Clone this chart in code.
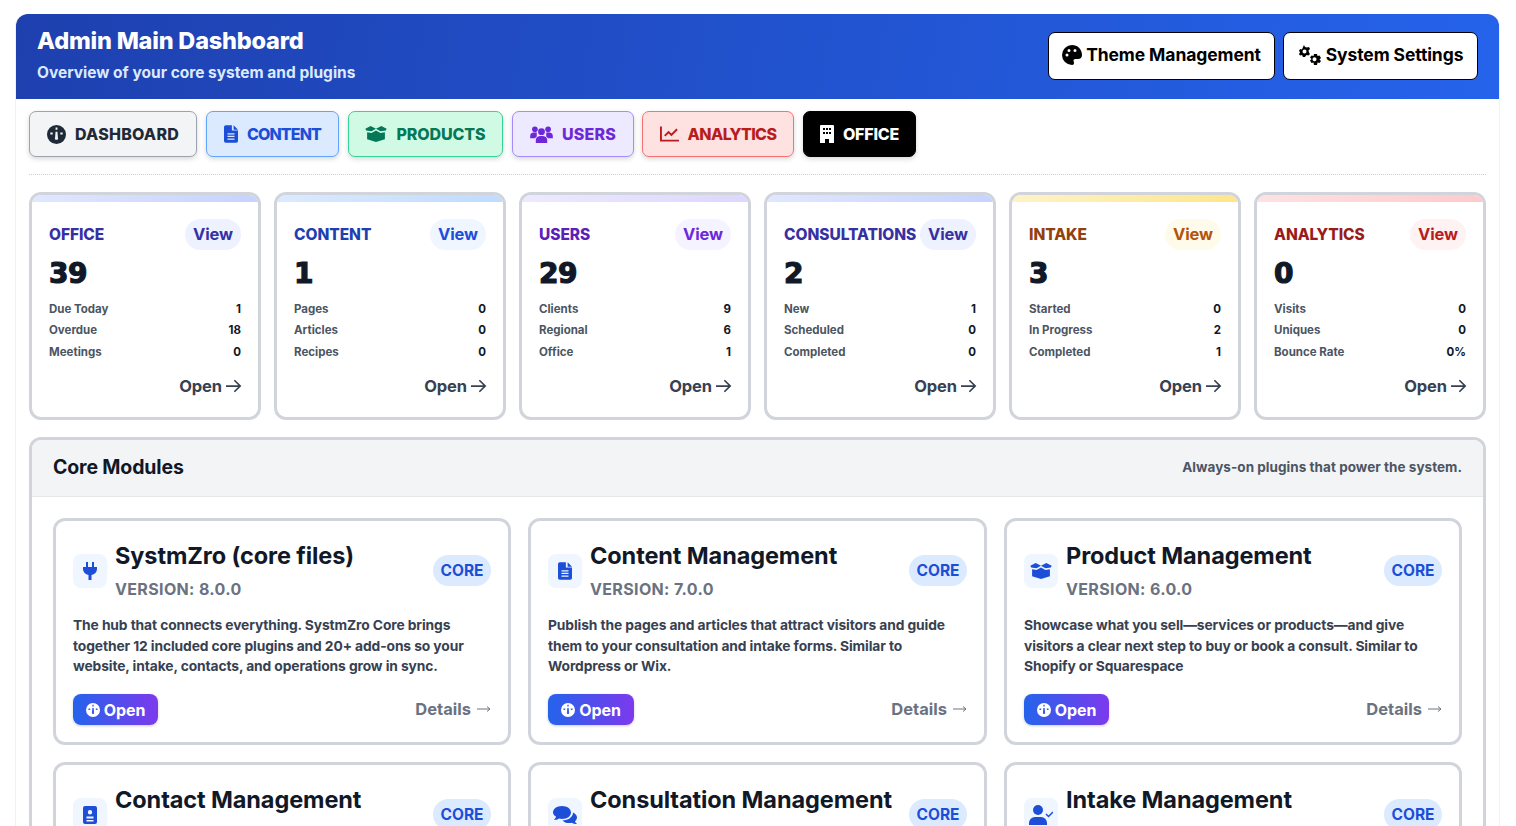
<!DOCTYPE html>
<html lang="en"><head><meta charset="utf-8"><title>Admin Main Dashboard</title>
<script src="https://cdn.jsdelivr.net/npm/chart.js@4"></script>
<style>
*{box-sizing:border-box}
html,body{margin:0;width:1516px;height:826px;overflow:hidden;background:#fff;font-family:"Inter","Noto Sans",sans-serif;}
svg{display:block;fill:currentColor}
#wrap{position:absolute;left:15px;top:14px;width:1485px;height:830px;border:1px solid #f0f1f3;border-top:0;border-radius:12px 12px 0 0}
#hdr{position:absolute;left:16px;top:14px;width:1483px;height:85px;border-radius:12px 12px 0 0;background:linear-gradient(100deg,#1e40af,#2563eb)}
#hdr h1{position:absolute;left:21px;top:13px;margin:0;font-size:23.5px;line-height:28px;font-weight:800;color:#fff;white-space:nowrap;letter-spacing:-.2px}
#hdr p{position:absolute;left:21px;top:49px;margin:0;font-size:15.5px;line-height:20px;font-weight:700;color:#dbeafe;white-space:nowrap}
.hbtn{position:absolute;top:18px;height:48px;padding-bottom:3px;background:#fff;border:1px solid #000;border-radius:7px;color:#000;font-weight:700;font-size:17.5px;display:flex;align-items:center;justify-content:center;gap:4px;white-space:nowrap;letter-spacing:-.1px}
.tab{position:absolute;top:111px;height:46px;border-radius:7px;border:1px solid;display:flex;align-items:center;justify-content:center;gap:9px;font-weight:800;font-size:16px;box-shadow:0 2px 5px rgba(0,0,0,.16);white-space:nowrap}
#rule{position:absolute;left:29px;top:174px;width:1457px;border-top:1px dotted #c9ced6}
.kpi{position:absolute;top:192px;width:232px;height:228px;border:3px solid #d1d5db;border-radius:12px;background:#fff;overflow:hidden}
.kpi .strip{position:absolute;left:0;top:0;right:0;height:7px}
.kpi .lab{position:absolute;left:17px;top:30px;font-size:15.5px;line-height:20px;font-weight:800;letter-spacing:-.05px;white-space:nowrap}
.kpi .view{position:absolute;right:17px;top:24px;width:56px;height:31px;padding-bottom:1px;border-radius:16px;font-size:16.5px;font-weight:700;display:flex;align-items:center;justify-content:center;letter-spacing:-.1px}
.kpi .num{position:absolute;left:17px;top:62px;font-family:"DejaVu Sans";font-size:28px;line-height:34px;font-weight:700;color:#111827;-webkit-text-stroke:1.2px #111827;letter-spacing:-.5px}
.kpi .row{position:absolute;left:17px;right:17px;font-size:11.5px;line-height:16px;font-weight:700;color:#4b5563;display:flex;justify-content:space-between}
.kpi .row b{color:#111827;font-weight:700}
.kpi .open{position:absolute;right:16px;top:180px;font-size:16.5px;line-height:22px;font-weight:700;color:#374151;display:flex;align-items:center;gap:4px;letter-spacing:-.1px}
#panel{position:absolute;left:29px;top:437px;width:1457px;height:420px;border:3px solid #d1d5db;border-radius:12px;overflow:hidden}
#phead{position:absolute;left:0;top:0;right:0;height:57px;background:#f3f4f6;border-bottom:1px solid #e5e7eb}
#phead h2{position:absolute;left:21px;top:15px;margin:0;font-size:19.5px;line-height:24px;font-weight:700;color:#111827;letter-spacing:-.15px}
#phead span{position:absolute;right:21px;top:18px;font-size:13.5px;line-height:18px;font-weight:700;color:#4b5563;letter-spacing:.04px}
.mod{position:absolute;height:227px;border:3px solid #d1d5db;border-radius:12px;background:#fff}
.mod .ico{position:absolute;left:17px;top:33px;width:34px;height:34px;border-radius:8px;background:#eff6ff;color:#1d4ed8;display:flex;align-items:center;justify-content:center}
.mod h3{position:absolute;left:59px;top:20px;margin:0;font-size:23.5px;line-height:30px;font-weight:700;color:#111827;white-space:nowrap;letter-spacing:-.1px}
.mod .ver{position:absolute;left:59px;top:57px;font-size:16px;line-height:22px;font-weight:700;color:#6b7280;white-space:nowrap;letter-spacing:.35px}
.mod .core{position:absolute;right:17px;top:34px;width:58px;height:31px;border-radius:16px;background:#dbeafe;color:#1d4ed8;font-size:15.5px;font-weight:700;display:flex;align-items:center;justify-content:center}
.mod .desc{position:absolute;left:17px;top:94px;font-size:13.8px;line-height:20.6px;font-weight:700;color:#374151;white-space:nowrap;letter-spacing:-.1px}
.mod .go{position:absolute;left:17px;top:173px;height:31px;border-radius:8px;background:linear-gradient(90deg,#2563eb,#7c3aed);color:#fff;font-size:16px;font-weight:700;display:flex;align-items:center;justify-content:center;gap:4px;box-shadow:0 1px 3px rgba(0,0,0,.2);letter-spacing:-.1px}
.mod .det{position:absolute;right:17px;top:177px;font-size:16.5px;line-height:22px;font-weight:700;color:#6b7280;display:flex;align-items:center;gap:6px}
</style></head><body>
<div id="wrap"></div>
<div id="hdr"><h1>Admin Main Dashboard</h1><p>Overview of your core system and plugins</p></div>
<div id="rule"></div>
<div id="panel"><div id="phead"><h2>Core Modules</h2><span>Always-on plugins that power the system.</span></div></div>
<script>
const navLabels=["DASHBOARD","CONTENT","PRODUCTS","USERS","ANALYTICS","OFFICE"];
const headerButtons=["Theme Management","System Settings"];
const kpiLabels=["OFFICE","CONTENT","USERS","CONSULTATIONS","INTAKE","ANALYTICS"];
const kpiTotals=[39,1,29,2,3,0];
const kpiRowNames=[["Due Today","Overdue","Meetings"],["Pages","Articles","Recipes"],["Clients","Regional","Office"],["New","Scheduled","Completed"],["Started","In Progress","Completed"],["Visits","Uniques","Bounce Rate"]];
const kpiRowValues=[["1","18","0"],["0","0","0"],["9","6","1"],["1","0","0"],["0","2","1"],["0","0","0%"]];
const moduleTitles=["SystmZro (core files)","Content Management","Product Management","Contact Management","Consultation Management","Intake Management"];
const moduleVersions=["8.0.0","7.0.0","6.0.0","","",""];
const moduleText=[["The hub that connects everything. SystmZro Core brings","together 12 included core plugins and 20+ add-ons so your","website, intake, contacts, and operations grow in sync."],["Publish the pages and articles that attract visitors and guide","them to your consultation and intake forms. Similar to","Wordpress or Wix."],["Showcase what you sell—services or products—and give","visitors a clear next step to buy or book a consult. Similar to","Shopify or Squarespace"]];

const I={
gauge:'<svg viewBox="0 0 20 20" width="S" height="S"><path fill-rule="evenodd" d="M10 0a10 10 0 1 0 0 20 10 10 0 0 0 0-20zM9 2.500h2v2.500H9zM3.500 8h2.500v2H3.500zM14 8h2.500v2H14zM9 7h2l.5 6.500a1.600 1.600 0 1 1-3 0z"/></svg>',
file:'<svg viewBox="0 0 16 20" width="W" height="S"><path fill-rule="evenodd" d="M2 0h7v6h7v12a2 2 0 0 1-2 2H2a2 2 0 0 1-2-2V2a2 2 0 0 1 2-2zM11 0l5 5h-5zM4 9v1.500h8V9zM4 12v1.500h8V12zM4 15v1.500h8V15z"/></svg>',
box:'<svg viewBox="0 0 24 18" width="W" height="S"><path d="M0 3l6-3 6 3-5 3-6-1zM24 3l-6-3-6 3 5 3 6-1zM2 7l5 1 5-3 5 3 5-1v8l-10 3-10-3z"/></svg>',
users:'<svg viewBox="0 0 24 18" width="W" height="S"><circle cx="5" cy="3.500" r="3"/><circle cx="19" cy="3.500" r="3"/><circle cx="12" cy="6" r="3.600"/><path d="M0 11a4 4 0 0 1 4-4h3v4l-2 2H0zM24 11a4 4 0 0 0-4-4h-3v4l2 2h5zM6 16a4.500 4.500 0 0 1 4.500-5.500h3A4.500 4.500 0 0 1 18 16v2H6z"/></svg>',
chart:'<svg viewBox="0 0 20 16" width="W" height="S" fill="none" stroke="currentColor" stroke-width="2"><path d="M1 0v15h19M5 10l4-4 3 3 6-6" fill="none"/></svg>',
bldg:'<svg viewBox="0 0 14 18" width="W" height="S"><path fill-rule="evenodd" d="M1 0h12a1 1 0 0 1 1 1v17H9v-4H5v4H0V1a1 1 0 0 1 1-1zM3 3v2h2V3zM6 3v2h2V3zM9 3v2h2V3zM3 7v2h2V7zM6 7v2h2V7zM9 7v2h2V7z"/></svg>',
palette:'<svg viewBox="0 0 20 20" width="S" height="S"><path fill-rule="evenodd" d="M10 0a10 10 0 1 0 0 20c1.500 0 2-1 2-2s-.500-1.500-.500-2.500S12.500 14 14 14h2c2.500 0 4-1.500 4-4C20 4 15.500 0 10 0zM5 8.500a1.500 1.500 0 1 1 0 3 1.500 1.500 0 0 1 0-3zM7 4a1.500 1.500 0 1 1 0 3 1.500 1.500 0 0 1 0-3zM13 4a1.500 1.500 0 1 1 0 3 1.500 1.500 0 0 1 0-3z"/></svg>',
gears:'<svg viewBox="0 0 24 20" width="W" height="S"><path fill-rule="evenodd" d="M6 0l1 2 2 .5 2-.5 1 2-1.500 1.500L11 7.500 12 9l-1.500 1.500L8.500 10 7 12H5l-1-2-2 .5L1 9l1-1.500L1 5.500 2.500 4 4 4.500 5 2zM6.500 4.500a2 2 0 1 0 0 4 2 2 0 0 0 0-4z"/><path fill-rule="evenodd" d="M16 9h3l.5 2 2-.5 1.500 2.500-1.500 1.500 1.500 1.500L21.500 18l-2-.5L19 20h-3l-.5-2.500-2 .5L12 15.500l1.500-1.500L12 12.500l1.500-2 2 .5zM17.500 12.500a2 2 0 1 0 0 3.500 2 2 0 0 0 0-3.500z"/></svg>',
arrow:'<svg viewBox="0 0 18 16" width="16" height="14" fill="none" stroke="currentColor" stroke-width="2"><path d="M0 8h16M10 2l6 6-6 6" fill="none" stroke-linecap="round"/></svg>',
thin:'<svg viewBox="0 0 14 8" width="14" height="8" fill="none" stroke="currentColor" stroke-width="1"><path d="M0 4h13M10 1.500L13 4l-3 2.500" fill="none"/></svg>',
plug:'<svg viewBox="0 0 14 18" width="14" height="18"><path d="M3 0h2v5H3zM9 0h2v5H9zM0 5h14v2a6 6 0 0 1-5.500 6v5h-3v-5A6 6 0 0 1 0 7z"/></svg>',
card:'<svg viewBox="0 0 14 18" width="14" height="18"><path fill-rule="evenodd" d="M2 0h10a2 2 0 0 1 2 2v14a2 2 0 0 1-2 2H2a2 2 0 0 1-2-2V2a2 2 0 0 1 2-2zM7 4a2.200 2.200 0 1 0 0 4.400A2.200 2.200 0 0 0 7 4zM3.500 10.500v2h7v-2zM3.500 14v1.500h7V14z"/></svg>',
chat:'<svg viewBox="0 0 24 20" width="24" height="20"><path d="M9 1c5 0 9 2.800 9 6.500S14 14 9 14c-1 0-2-.100-3-.400C4.500 14.800 3 15 1 15c1-1 1.800-2.200 2-3.400C1 10.500 0 9 0 7.500 0 3.800 4 1 9 1z"/><path d="M20 7.500c2.500 1 4 3 4 5 0 1.500-.800 2.800-2 3.800.200 1 1 2 2 2.700-2 0-3.500-.300-5-1.300-1 .300-2 .300-3 .300-2.800 0-5.200-1-6.500-2.600 5.500 0 10.500-3.200 10.500-7.900z"/></svg>',
ucheck:'<svg viewBox="0 0 24 20" width="24" height="20"><circle cx="9" cy="5" r="5"/><path d="M0 20v-2a6 6 0 0 1 6-6h6a6 6 0 0 1 6 6v2z"/><path d="M17 9l2.500 2.500L24 7" fill="none" stroke="currentColor" stroke-width="1.500"/></svg>'
};
const ic=(n,w,s)=>I[n].replace('"W"','"'+w+'"').replace(/"S"/g,'"'+s+'"');
const add=(h,p=document.body)=>{p.insertAdjacentHTML('beforeend',h);return p.lastElementChild};

const hdr=document.getElementById('hdr');
add(`<div class="hbtn" style="left:1032px;width:227px">${ic('palette',20,20)}${headerButtons[0]}</div>`,hdr);
add(`<div class="hbtn" style="left:1267px;width:195px">${ic('gears',24,20)}${headerButtons[1]}</div>`,hdr);

const navX=[29,206,348,512,642,803], navW=[168,133,155,122,152,113];
const navSpacing=[.2,-.9,-.1,.2,-.6,-.2];
const navStyle=[["#f3f4f6","#9ca3af","#1f2937"],["#dbeafe","#60a5fa","#1d4ed8"],["#d1fae5","#34d399","#047857"],["#ede9fe","#a78bfa","#6d28d9"],["#fee2e2","#f87171","#b91c1c"],["#000","#000","#fff"]];
const navIcon=[ic('gauge',19,19),ic('file',14,18),ic('box',22,16),ic('users',23,17),ic('chart',19,16),ic('bldg',14,18)];
navLabels.forEach((t,i)=>add(`<div class="tab" style="left:${navX[i]}px;width:${navW[i]}px;letter-spacing:${navSpacing[i]}px;background:${navStyle[i][0]};border-color:${navStyle[i][1]};color:${navStyle[i][2]}">${navIcon[i]}${t}</div>`));

const kpiX=[29,274,519,764,1009,1254];
const kpiColor=["#3730a3","#1d4ed8","#6d28d9","#3730a3","#b45309","#b91c1c"];
const kpiLabCol=["#3730a3","#1e40af","#5b21b6","#3730a3","#92400e","#991b1b"];
const kpiPill=["#eef2ff","#eff6ff","#f5f3ff","#eef2ff","#fffbeb","#fef2f2"];
const kpiStrip=[["#e0e7ff","#c7d2fe"],["#dbeafe","#bfdbfe"],["#ede9fe","#ddd6fe"],["#e0e7ff","#c7d2fe"],["#fef3c7","#fde68a"],["#fee2e2","#fecaca"]];
const rowTop=[106,127,149];
kpiLabels.forEach((t,i)=>{
 const k=add(`<div class="kpi" style="left:${kpiX[i]}px"></div>`);
 add(`<div class="strip" style="background:linear-gradient(90deg,${kpiStrip[i][0]},${kpiStrip[i][1]})"></div>`,k);
 add(`<div class="lab" style="color:${kpiLabCol[i]}">${t}</div>`,k);
 add(`<div class="view" style="background:${kpiPill[i]};color:${kpiColor[i]}">View</div>`,k);
 add(`<div class="num">${kpiTotals[i]}</div>`,k);
 kpiRowNames[i].forEach((n,j)=>add(`<div class="row" style="top:${rowTop[j]}px"><span>${n}</span><b>${kpiRowValues[i][j]}</b></div>`,k));
 add(`<div class="open">Open ${I.arrow}</div>`,k);
});

const panel=document.getElementById('panel');
const modX=[21,496,972], modW=[458,459,458], goW=[85,86,85], modY=[78,322];
const modIcon=[I.plug,ic('file',14,18),ic('box',22,16),I.card,I.chat,I.ucheck];
moduleTitles.forEach((t,i)=>{
 const m=add(`<div class="mod" style="left:${modX[i%3]}px;width:${modW[i%3]}px;top:${modY[i<3?0:1]}px"></div>`,panel);
 add(`<div class="ico">${modIcon[i]}</div>`,m);
 add(`<h3>${t}</h3>`,m);
 add(`<div class="core">CORE</div>`,m);
 if(moduleVersions[i]){
  add(`<div class="ver">VERSION: ${moduleVersions[i]}</div>`,m);
  add(`<div class="desc">${moduleText[i].join('<br>')}</div>`,m);
  add(`<div class="go" style="width:${goW[i]}px">${ic('gauge',14,14)}Open</div>`,m);
  add(`<div class="det">Details ${I.thin}</div>`,m);
 }
});
</script>
</body></html>
